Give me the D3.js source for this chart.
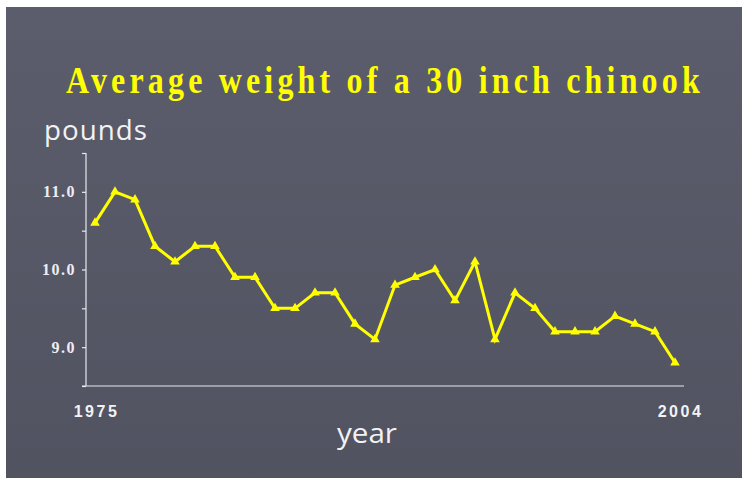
<!DOCTYPE html>
<html>
<head>
<meta charset="utf-8">
<script src="https://cdn.jsdelivr.net/npm/d3@7"></script>
<style>
  html, body { margin: 0; padding: 0; background: #fff; }
  svg { display: block; }
</style>
</head>
<body>
<div id="chart"></div>
<script>
const years = d3.range(1975, 2005);
const weights = [10.6, 11.0, 10.9, 10.3, 10.1, 10.3, 10.3, 9.9, 9.9, 9.5,
                 9.5, 9.7, 9.7, 9.3, 9.1, 9.8, 9.9, 10.0, 9.6, 10.1,
                 9.1, 9.7, 9.5, 9.2, 9.2, 9.2, 9.4, 9.3, 9.2, 8.8];
const yTicks = [8.5, 9.0, 9.5, 10.0, 10.5, 11.0, 11.5];
const xTickLabels = [1975, 2004];

const width = 742, height = 478;

const svg = d3.select("#chart")
    .append("svg")
    .attr("width", width)
    .attr("height", height);

const defs = svg.append("defs");
const grad = defs.append("linearGradient")
    .attr("id", "bg")
    .attr("x1", 0).attr("y1", 0).attr("x2", 0).attr("y2", 1);
grad.append("stop").attr("offset", "0%").attr("stop-color", "#5c5d6c");
grad.append("stop").attr("offset", "100%").attr("stop-color", "#515361");

// slide panel
svg.append("rect")
    .attr("x", 6).attr("y", 7)
    .attr("width", width - 6).attr("height", height - 7)
    .attr("fill", "url(#bg)");

const x = d3.scaleLinear().domain([1975, 2004]).range([95, 675]);
const y = d3.scaleLinear().domain([8.5, 11.5]).range([386, 153]);
const axisX = 86;

// squeeze a text horizontally so that it spans the given width
function fitText(sel, left, baseline, w) {
    const natural = sel.node().getComputedTextLength();
    sel.attr("transform", `translate(${left},${baseline}) scale(${w / natural},1)`);
}

// title
const title = svg.append("text")
    .attr("fill", "#ffff00")
    .style("font-family", "'Liberation Serif', 'Times New Roman', serif")
    .style("font-weight", "bold")
    .style("font-size", "38px")
    .style("letter-spacing", "5px")
    .text("Average weight of a 30 inch chinook");
fitText(title, 66, 93, 638);

// y axis
const yAxis = d3.axisLeft(y)
    .tickValues(yTicks)
    .tickSize(4)
    .tickPadding(6)
    .tickFormat(d => Number.isInteger(d) ? d3.format(".1f")(d) : "");

const gy = svg.append("g")
    .attr("transform", `translate(${axisX},0)`)
    .call(yAxis);
gy.select(".domain").remove();
gy.selectAll(".tick line").attr("stroke", "#e8e8ee").attr("stroke-width", 1.2);
gy.selectAll(".tick text")
    .attr("fill", "#eeeef2")
    .style("font-family", "'Liberation Serif', 'Times New Roman', serif")
    .style("font-weight", "bold")
    .style("font-size", "16px")
    .style("letter-spacing", "1.5px");

svg.append("line")
    .attr("x1", axisX).attr("x2", axisX)
    .attr("y1", y(11.5)).attr("y2", y(8.5))
    .attr("stroke", "#e8e8ee").attr("stroke-width", 1.2);

// x axis
svg.append("line")
    .attr("x1", axisX - 4).attr("x2", x(2004) + 9)
    .attr("y1", y(8.5)).attr("y2", y(8.5))
    .attr("stroke", "#e8e8ee").attr("stroke-width", 1.2);

const xAxis = d3.axisBottom(x)
    .tickValues(xTickLabels)
    .tickSize(0)
    .tickPadding(20)
    .tickFormat(d3.format("d"));

const gx = svg.append("g")
    .attr("transform", `translate(0,${y(8.5)})`)
    .call(xAxis);
gx.select(".domain").remove();
gx.selectAll(".tick text")
    .attr("fill", "#f2f2f5")
    .attr("dx", (d, i) => i === 0 ? 1 : 5)
    .style("font-family", "'Liberation Sans', Arial, sans-serif")
    .style("font-weight", "bold")
    .style("font-size", "16px")
    .style("letter-spacing", "2.5px");

// axis titles
const yTitle = svg.append("text")
    .attr("fill", "#f2f2f5")
    .style("font-family", "'Open Sans', 'DejaVu Sans', sans-serif")
    .style("font-size", "27px")
    .style("letter-spacing", "1px")
    .text("pounds");
fitText(yTitle, 44, 140, 104);

const xTitle = svg.append("text")
    .attr("fill", "#f2f2f5")
    .style("font-family", "'Open Sans', 'Liberation Sans', sans-serif")
    .style("font-size", "28px")
    .text("year");
fitText(xTitle, 337, 443, 60);

// series
const line = d3.line()
    .x((d, i) => x(years[i]))
    .y(d => y(d));

svg.append("path")
    .datum(weights)
    .attr("d", line)
    .attr("fill", "none")
    .attr("stroke", "#ffff00")
    .attr("stroke-width", 3)
    .attr("stroke-linejoin", "miter");

svg.selectAll(".marker")
    .data(weights)
    .enter().append("path")
    .attr("class", "marker")
    .attr("transform", (d, i) => `translate(${x(years[i])},${y(d)})`)
    .attr("d", d3.symbol().type(d3.symbolTriangle).size(40))
    .attr("fill", "#ffff00");
</script>
</body>
</html>
